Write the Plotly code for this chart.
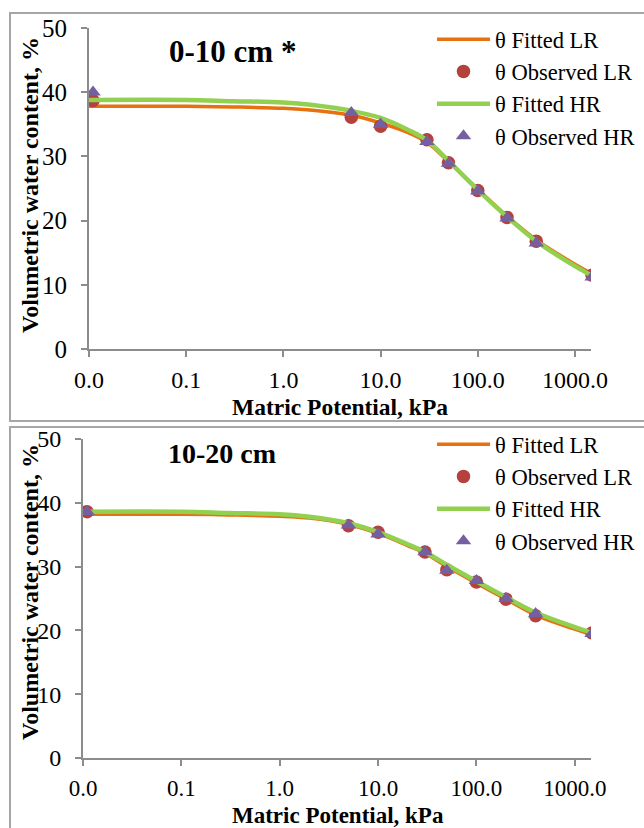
import plotly.graph_objects as go

# ---------------- data ----------------
x_obs = [0.011, 5, 10, 30, 50, 100, 200, 400, 1500]
x_fit = [0.01, 0.1, 0.3, 1, 2, 5, 10, 20, 30, 50, 100, 200, 400, 1000, 1500]

# 0-10 cm
top_obs_lr = [38.7, 36.1, 34.7, 32.6, 29.0, 24.7, 20.5, 16.8, 11.5]
top_obs_hr = [40.0, 36.8, 35.0, 32.3, 28.9, 24.6, 20.4, 16.5, 11.2]
top_fit_lr = [37.8, 37.8, 37.7, 37.5, 37.2, 36.4, 35.2, 33.6, 32.2, 29.2, 24.9, 20.7, 17.0, 13.2, 11.7]
top_fit_hr = [38.8, 38.8, 38.6, 38.4, 38.0, 37.1, 36.0, 34.0, 32.5, 29.3, 24.8, 20.6, 16.8, 12.9, 11.4]

# 10-20 cm
bot_obs_lr = [38.6, 36.4, 35.4, 32.3, 29.5, 27.6, 24.9, 22.3, 19.6]
bot_obs_hr = [38.6, 36.5, 35.1, 32.3, 29.4, 27.8, 25.0, 22.6, 19.5]
bot_fit_lr = [38.2, 38.2, 38.1, 37.9, 37.6, 36.6, 35.2, 33.3, 32.1, 30.0, 27.4, 24.9, 22.4, 20.2, 19.3]
bot_fit_hr = [38.6, 38.6, 38.4, 38.2, 37.8, 36.8, 35.4, 33.5, 32.3, 30.3, 27.7, 25.2, 22.8, 20.5, 19.6]

tick_vals = [0.01, 0.1, 1, 10, 100, 1000]
tick_text = ["0.0", "0.1", "1.0", "10.0", "100.0", "1000.0"]
y_ticks = [0, 10, 20, 30, 40, 50]

names = ["θ Fitted LR", "θ Observed LR", "θ Fitted HR", "θ Observed HR"]

# ---------------- style ----------------
W, H = 644, 828
FONT = "Liberation Serif"
ORANGE = "#E8700E"
GREEN = "#92D050"
RED = "#B5413D"
PURPLE = "#7460A0"
AX = "#8C8C8C"

def px(x):
    return x / W

def py(y):
    return (H - y) / H

fig = go.Figure()

panels = [
    dict(fit_lr=top_fit_lr, obs_lr=top_obs_lr, fit_hr=top_fit_hr, obs_hr=top_obs_hr,
         xa="x", ya="y", legend="legend"),
    dict(fit_lr=bot_fit_lr, obs_lr=bot_obs_lr, fit_hr=bot_fit_hr, obs_hr=bot_obs_hr,
         xa="x2", ya="y2", legend="legend2"),
]

for p in panels:
    fig.add_trace(go.Scatter(x=x_fit, y=p["fit_lr"], mode="lines", name=names[0],
                             line=dict(color=ORANGE, width=3.5, shape="spline", smoothing=1),
                             xaxis=p["xa"], yaxis=p["ya"], legend=p["legend"]))
    fig.add_trace(go.Scatter(x=x_obs, y=p["obs_lr"], mode="markers", name=names[1],
                             marker=dict(color=RED, size=13.5, symbol="circle"),
                             xaxis=p["xa"], yaxis=p["ya"], legend=p["legend"]))
    fig.add_trace(go.Scatter(x=x_fit, y=p["fit_hr"], mode="lines", name=names[2],
                             line=dict(color=GREEN, width=4.5, shape="spline", smoothing=1),
                             xaxis=p["xa"], yaxis=p["ya"], legend=p["legend"]))
    fig.add_trace(go.Scatter(x=x_obs, y=p["obs_hr"], mode="markers", name=names[3],
                             marker=dict(color=PURPLE, size=13.5, symbol="triangle-up"),
                             xaxis=p["xa"], yaxis=p["ya"], legend=p["legend"]))

def xaxis(domain, size, anchor):
    return dict(type="log", range=[-2, 3.165], domain=domain, anchor=anchor, automargin=False,
                tickvals=tick_vals, ticktext=tick_text, showgrid=False, zeroline=False,
                showline=True, linecolor=AX, linewidth=1.8, ticks="outside", ticklen=6,
                tickwidth=1.8, tickcolor=AX, ticklabelstandoff=2,
                tickfont=dict(family=FONT, size=size, color="black"))

def yaxis(domain, size, anchor):
    return dict(range=[0, 50], domain=domain, anchor=anchor, tickvals=y_ticks, automargin=False,
                showgrid=False, zeroline=False, showline=True, linecolor=AX, linewidth=1.8,
                ticks="outside", ticklen=6, tickwidth=1.8, tickcolor=AX, ticklabelstandoff=9,
                tickfont=dict(family=FONT, size=size, color="black"))

def legend(xpix, ypix):
    return dict(x=px(xpix), y=py(ypix), xanchor="left", yanchor="top",
                bgcolor="rgba(0,0,0,0)", borderwidth=0, itemwidth=53, tracegroupgap=0,
                font=dict(family=FONT, size=22.5, color="black"))

fig.update_layout(
    template="none",
    width=W, height=H, margin=dict(l=0, r=0, t=0, b=0, autoexpand=False),
    paper_bgcolor="white", plot_bgcolor="white",
    xaxis=xaxis([px(89), px(591)], 24, "y"),
    yaxis=yaxis([py(349), py(28)], 25, "x"),
    xaxis2=xaxis([px(83), px(591)], 23, "y2"),
    yaxis2=yaxis([py(758), py(439)], 24, "x2"),
    legend=legend(432, 18),
    legend2=legend(432, 423),
    showlegend=True,
)

# panel frames
fig.add_shape(type="rect", xref="paper", yref="paper", x0=px(10), x1=1.05, y0=py(421), y1=py(13),
              line=dict(color="#A6A6A6", width=2), fillcolor="rgba(0,0,0,0)", layer="below")
fig.add_shape(type="rect", xref="paper", yref="paper", x0=px(10), x1=1.05, y0=-0.05, y1=py(427),
              line=dict(color="#A6A6A6", width=2), fillcolor="rgba(0,0,0,0)", layer="below")

def ann(text, x, y, size, angle=0):
    fig.add_annotation(text=text, x=px(x), y=py(y), xref="paper", yref="paper",
                       showarrow=False, textangle=angle, xanchor="center", yanchor="middle",
                       font=dict(family=FONT, size=size, color="black"))

ann("<b>0-10 cm *</b>", 232, 51, 31)
ann("<b>10-20 cm</b>", 222, 453, 28)
ann("<b>Volumetric water content, %</b>", 30, 185, 24, -90)
ann("<b>Volumetric water content, %</b>", 30, 592, 24, -90)
ann("<b>Matric Potential, kPa</b>", 340, 407, 23.5)
ann("<b>Matric Potential, kPa</b>", 338, 815, 23)

fig.write_html("out.html", config={"displayModeBar": False},
               post_script="document.body.style.margin='0';document.body.style.padding='0';"
                           "document.documentElement.style.overflow='hidden';")
